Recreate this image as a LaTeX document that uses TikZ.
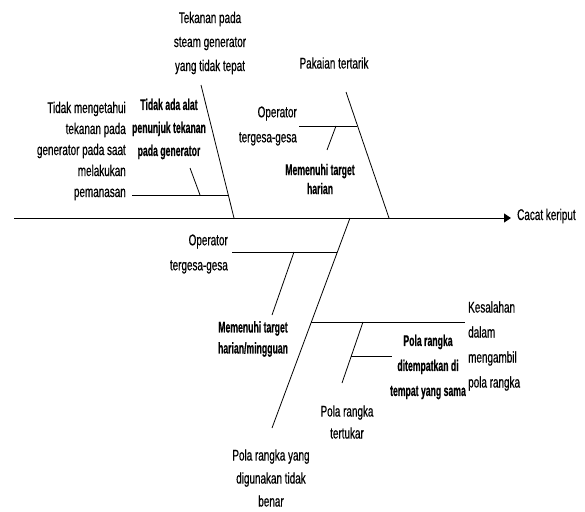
\documentclass[tikz,border=0pt]{standalone}
\usepackage{fontspec}
\setmainfont{Liberation Sans}[FakeStretch=0.64, FakeBold=0.5, BoldFeatures={FakeStretch=0.56, FakeBold=0.4}]
\usepackage{tikz}
\usetikzlibrary{positioning}
\usetikzlibrary{arrows.meta}
\newcommand\fsz[1]{\fontsize{15.5}{#1}\selectfont}
\tikzset{
  bone/.style={black, line width=0.8pt},
  lbl/.style={inner sep=0pt, align=center},
  blbl/.style={lbl},
}

\begin{document}
\begin{tikzpicture}[x=1pt, y=-1pt]
	\useasboundingbox (0,0) rectangle (585,511);
	% spine
	\coordinate (tail) at (14,218);
	\coordinate (head) at (511,218);
	\draw[bone, line width=1pt, -{Triangle[length=7pt,width=9pt]}] (tail)--(head);
	\node[lbl, anchor=west, font=\fsz{24}] (effect) at (517,216) {Cacat keriput};
	% upper left bone
	\coordinate (a1) at (201,85);
	\coordinate (a2) at (234,218);
	\coordinate (a3) at (132,195);
	\coordinate (a4) at (228,195);
	\coordinate (a5) at (200,195);
	\coordinate (a6) at (190,168);
	\draw[bone] (a1)--(a2);
	\draw[bone] (a3)--(a4);
	\draw[bone] (a5)--(a6);
	\node[lbl, font=\fsz{24}] (tekanan) at (210,43) {Tekanan pada\\steam generator\\yang tidak tepat};
	\node[lbl, align=right, anchor=east, font=\fsz{21}] (mengetahui) at (126,151) {Tidak mengetahui\\tekanan pada\\generator pada saat\\melakukan\\pemanasan};
	\node[blbl, font=\fsz{23}\bfseries] (alat) at (169,129) {Tidak ada alat\\penunjuk tekanan\\pada generator};
	% upper right bone
	\coordinate (b1) at (346,92);
	\coordinate (b2) at (389,218);
	\coordinate (b3) at (299,126);
	\coordinate (b4) at (357,126);
	\coordinate (b5) at (336,126);
	\coordinate (b6) at (327,150);
	\draw[bone] (b1)--(b2);
	\draw[bone] (b3)--(b4);
	\draw[bone] (b5)--(b6);
	\node[lbl, font=\fsz{24}] (pakaian) at (334,63) {Pakaian tertarik};
	\node[lbl, align=right, anchor=east, font=\fsz{25}] (operatorA) at (297,126) {Operator\\tergesa-gesa};
	\node[blbl, font=\fsz{19}\bfseries] (targetA) at (320,179) {Memenuhi target\\harian};
	% lower bone
	\coordinate (c1) at (350,218);
	\coordinate (c2) at (272,428);
	\coordinate (c3) at (232,252);
	\coordinate (c4) at (337,252);
	\coordinate (c5) at (294,252);
	\coordinate (c6) at (272,315);
	\coordinate (c7) at (311,322);
	\coordinate (c8) at (465,322);
	\coordinate (c9) at (363,322);
	\coordinate (c10) at (342,383);
	\coordinate (c11) at (351,356);
	\coordinate (c12) at (392,356);
	\draw[bone] (c1)--(c2);
	\draw[bone] (c3)--(c4);
	\draw[bone] (c5)--(c6);
	\draw[bone] (c7)--(c8);
	\draw[bone] (c9)--(c10);
	\draw[bone] (c11)--(c12);
	\node[lbl, align=right, anchor=east, font=\fsz{25}] (operatorB) at (228,254) {Operator\\tergesa-gesa};
	\node[blbl, font=\fsz{21}\bfseries] (targetB) at (253,339) {Memenuhi target\\harian/mingguan};
	\node[lbl, align=left, anchor=west, font=\fsz{25}] (kesalahan) at (468,346) {Kesalahan\\dalam\\mengambil\\pola rangka};
	\node[blbl, font=\fsz{25}\bfseries] (tempat) at (428,367) {Pola rangka\\ditempatkan di\\tempat yang sama};
	\node[lbl, font=\fsz{22}] (tertukar) at (347,422) {Pola rangka\\tertukar};
	\node[lbl, font=\fsz{23}] (digunakan) at (271,478) {Pola rangka yang\\digunakan tidak\\benar};
\end{tikzpicture}
\end{document}
